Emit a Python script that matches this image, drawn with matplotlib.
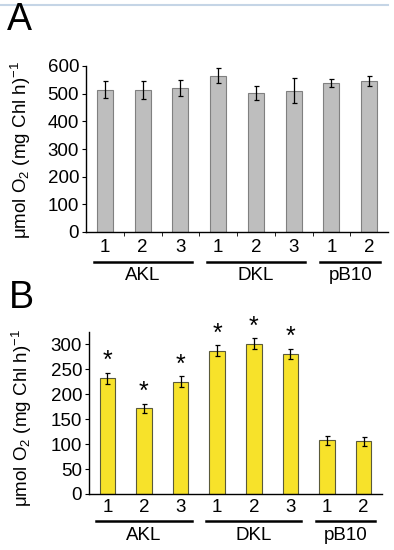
import matplotlib
matplotlib.use("Agg")
import matplotlib.pyplot as plt
from matplotlib.lines import Line2D
from matplotlib.transforms import blended_transform_factory

plt.rcParams['font.family'] = ['Liberation Sans', 'DejaVu Sans']
plt.rcParams['mathtext.fontset'] = 'custom'
plt.rcParams['mathtext.rm'] = 'Liberation Sans'
plt.rcParams['mathtext.it'] = 'Liberation Sans'

# data
ticks = ['1', '2', '3', '1', '2', '3', '1', '2']
groups = ['AKL', 'DKL', 'pB10']
group_span = [(0, 2), (3, 5), (6, 7)]

a_vals = [515, 512, 521, 564, 502, 510, 538, 546]
a_err = [30, 33, 30, 27, 26, 45, 14, 17]

b_vals = [232, 172, 225, 287, 301, 281, 108, 106]
b_err = [11, 9, 11, 11, 11, 10, 9, 9]
b_star = [1, 1, 1, 1, 1, 1, 0, 0]

W, H = 394, 550
fig = plt.figure(figsize=(W / 100, H / 100), dpi=100)
fig.patch.set_facecolor('white')

ylab = r'$\mu$mol O$_2$ (mg Chl h)$^{-1}$'


def rect(l, r, t, b):
    return [l / W, (H - b) / H, (r - l) / W, (b - t) / H]


def panel(ax, vals, err, color, edge, ylim, yt, tickmarks, tick_y, line_y, lab_y):
    x = list(range(len(vals)))
    ax.bar(x, vals, width=0.42, color=color, edgecolor=edge, linewidth=0.8, zorder=2)
    ax.errorbar(x, vals, yerr=err, fmt='none', ecolor='black', elinewidth=0.9,
                capsize=1.8, capthick=0.9, zorder=3)
    ax.set_xlim(-0.5, len(vals) - 0.5)
    ax.set_ylim(*ylim)
    ax.set_yticks(yt)
    ax.tick_params(axis='y', labelsize=13.5, length=3, width=0.8, pad=2)
    ax.set_xticks([i + 0.5 for i in range(len(vals) - 1)])
    ax.set_xticklabels([])
    ax.tick_params(axis='x', length=3 if tickmarks else 0, width=0.6, direction='out')
    for s in ['top', 'right']:
        ax.spines[s].set_visible(False)
    ax.spines['left'].set_linewidth(1.0)
    ax.spines['bottom'].set_linewidth(1.0)
    tr = blended_transform_factory(ax.transData, fig.transFigure)
    for i, t in enumerate(ticks):
        fig.text(i, (H - tick_y) / H, t, transform=tr, ha='center', va='center', fontsize=13.5)
    for g, (a, b) in zip(groups, group_span):
        x0 = a - 0.3
        x1 = min(b + 0.3, len(vals) - 0.52)
        fig.add_artist(Line2D([x0, x1], [(H - line_y) / H] * 2, transform=tr,
                              color='black', lw=1.8))
        fig.text((a + b) / 2, (H - lab_y) / H, g, transform=tr, ha='center',
                 va='center', fontsize=13.5)


# thin blue rule at top
fig.add_artist(Line2D([0, 388 / W], [1 - 5 / H] * 2, color='#c5d5e6', lw=1.5))

axA = fig.add_axes(rect(86, 388, 66, 232))
panel(axA, a_vals, a_err, '#bebebe', '#808080', (0, 600), range(0, 601, 100),
      True, 247, 262, 275)
fig.text(7 / W, 1 - 20 / H, 'A', fontsize=27, va='center', ha='left')
fig.text(21 / W, 1 - 150 / H, ylab, rotation=90, fontsize=13.5, ha='center', va='center')

axB = fig.add_axes(rect(89, 382, 332, 494))
panel(axB, b_vals, b_err, '#f7e22a', '#5a5a3a', (0, 325), range(0, 301, 50),
      False, 508, 521, 536)
for i, (v, e, s) in enumerate(zip(b_vals, b_err, b_star)):
    if s:
        axB.annotate('*', (i, v + e), xytext=(0, 0), textcoords='offset points',
                     ha='center', va='bottom', fontsize=18)
fig.text(9 / W, 1 - 298 / H, 'B', fontsize=27, va='center', ha='left')
fig.text(22 / W, 1 - 418 / H, ylab, rotation=90, fontsize=13.5, ha='center', va='center')

fig.savefig('out.png', dpi=100)
